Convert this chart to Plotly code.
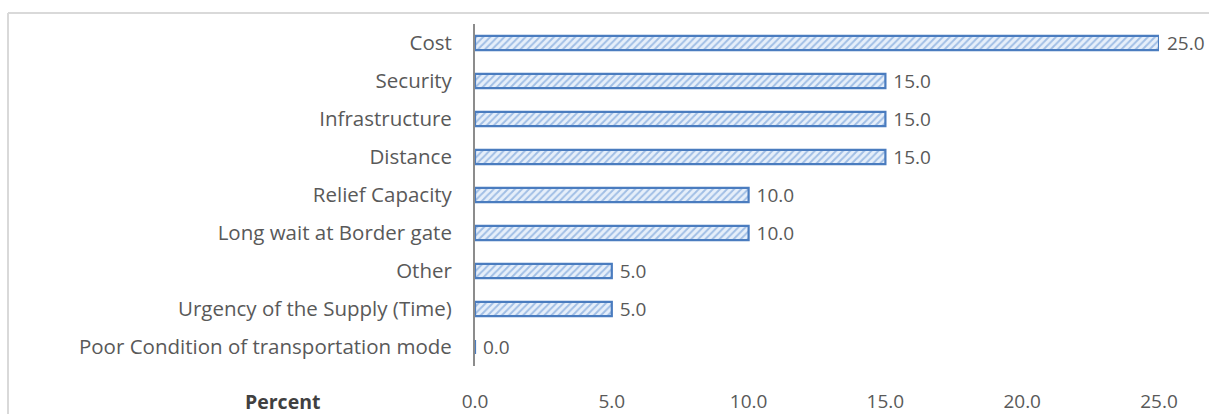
import plotly.graph_objects as go

categories = ["Cost", "Security", "Infrastructure", "Distance", "Relief Capacity",
              "Long wait at Border gate", "Other", "Urgency of the Supply (Time)",
              "Poor Condition of transportation mode"]
values = [25.0, 15.0, 15.0, 15.0, 10.0, 10.0, 5.0, 5.0, 0.0]
tick_vals = [0, 5, 10, 15, 20, 25]
tick_text = ["0.0", "5.0", "10.0", "15.0", "20.0", "25.0"]
axis_title = "Percent"

W, H = 1209, 414
L, R, T, B = 475, 50, 24, 48
pw = W - L - R
ph = H - T - B

def px_x(p):
    return (p - L) / pw

def px_y(p):
    return 1 - (p - T) / ph

FONT = "Open Sans, Noto Sans, sans-serif"

fig = go.Figure()
fig.add_trace(go.Bar(
    y=categories, x=values, orientation="h",
    width=0.37,
    marker=dict(
        color="#dce8f6",
        line=dict(color="#4a7cbf", width=2.2),
        pattern=dict(shape="/", fgcolor="#5b8ed0", bgcolor="#e6effa", size=5, solidity=0.4),
    ),
    texttemplate="\u00a0%{x:.1f}",
    textposition="outside",
    constraintext="none",
    textfont=dict(color="#595959", size=19, family=FONT),
    cliponaxis=False,
    showlegend=False,
))

fig.update_layout(
    width=W, height=H,
    margin=dict(l=L, r=R, t=T, b=B, pad=0, autoexpand=False),
    paper_bgcolor="white", plot_bgcolor="white",
    font=dict(family=FONT, color="#595959", size=19),
    xaxis=dict(range=[0, 25], tickvals=tick_vals, ticktext=tick_text, automargin=False,
               showgrid=False, zeroline=False, showline=False,
               ticks="outside", ticklen=18, tickcolor="rgba(0,0,0,0)",
               tickfont=dict(size=19, color="#595959"), fixedrange=True),
    yaxis=dict(categoryorder="array", categoryarray=categories[::-1], automargin=False,
               range=[-0.5, 8.5],
               showgrid=False, zeroline=False, showline=True, linecolor="#8c8c8c", linewidth=2,
               ticks="outside", ticklen=17, tickcolor="rgba(0,0,0,0)",
               tickfont=dict(size=20.5, color="#595959")),
    annotations=[dict(text="<b>" + axis_title + "</b>", xref="paper", yref="paper",
                      x=px_x(282), y=px_y(401), xanchor="center", yanchor="middle",
                      showarrow=False, font=dict(size=19.5, color="#404040", family=FONT))],
    shapes=[
        dict(type="line", xref="paper", yref="paper", x0=px_x(8), x1=px_x(1209),
             y0=px_y(13), y1=px_y(13), line=dict(color="#d9d9d9", width=2)),
        dict(type="line", xref="paper", yref="paper", x0=px_x(8), x1=px_x(8),
             y0=px_y(13), y1=px_y(414), line=dict(color="#d9d9d9", width=2)),
    ],
)

fig.write_html("out.html")
